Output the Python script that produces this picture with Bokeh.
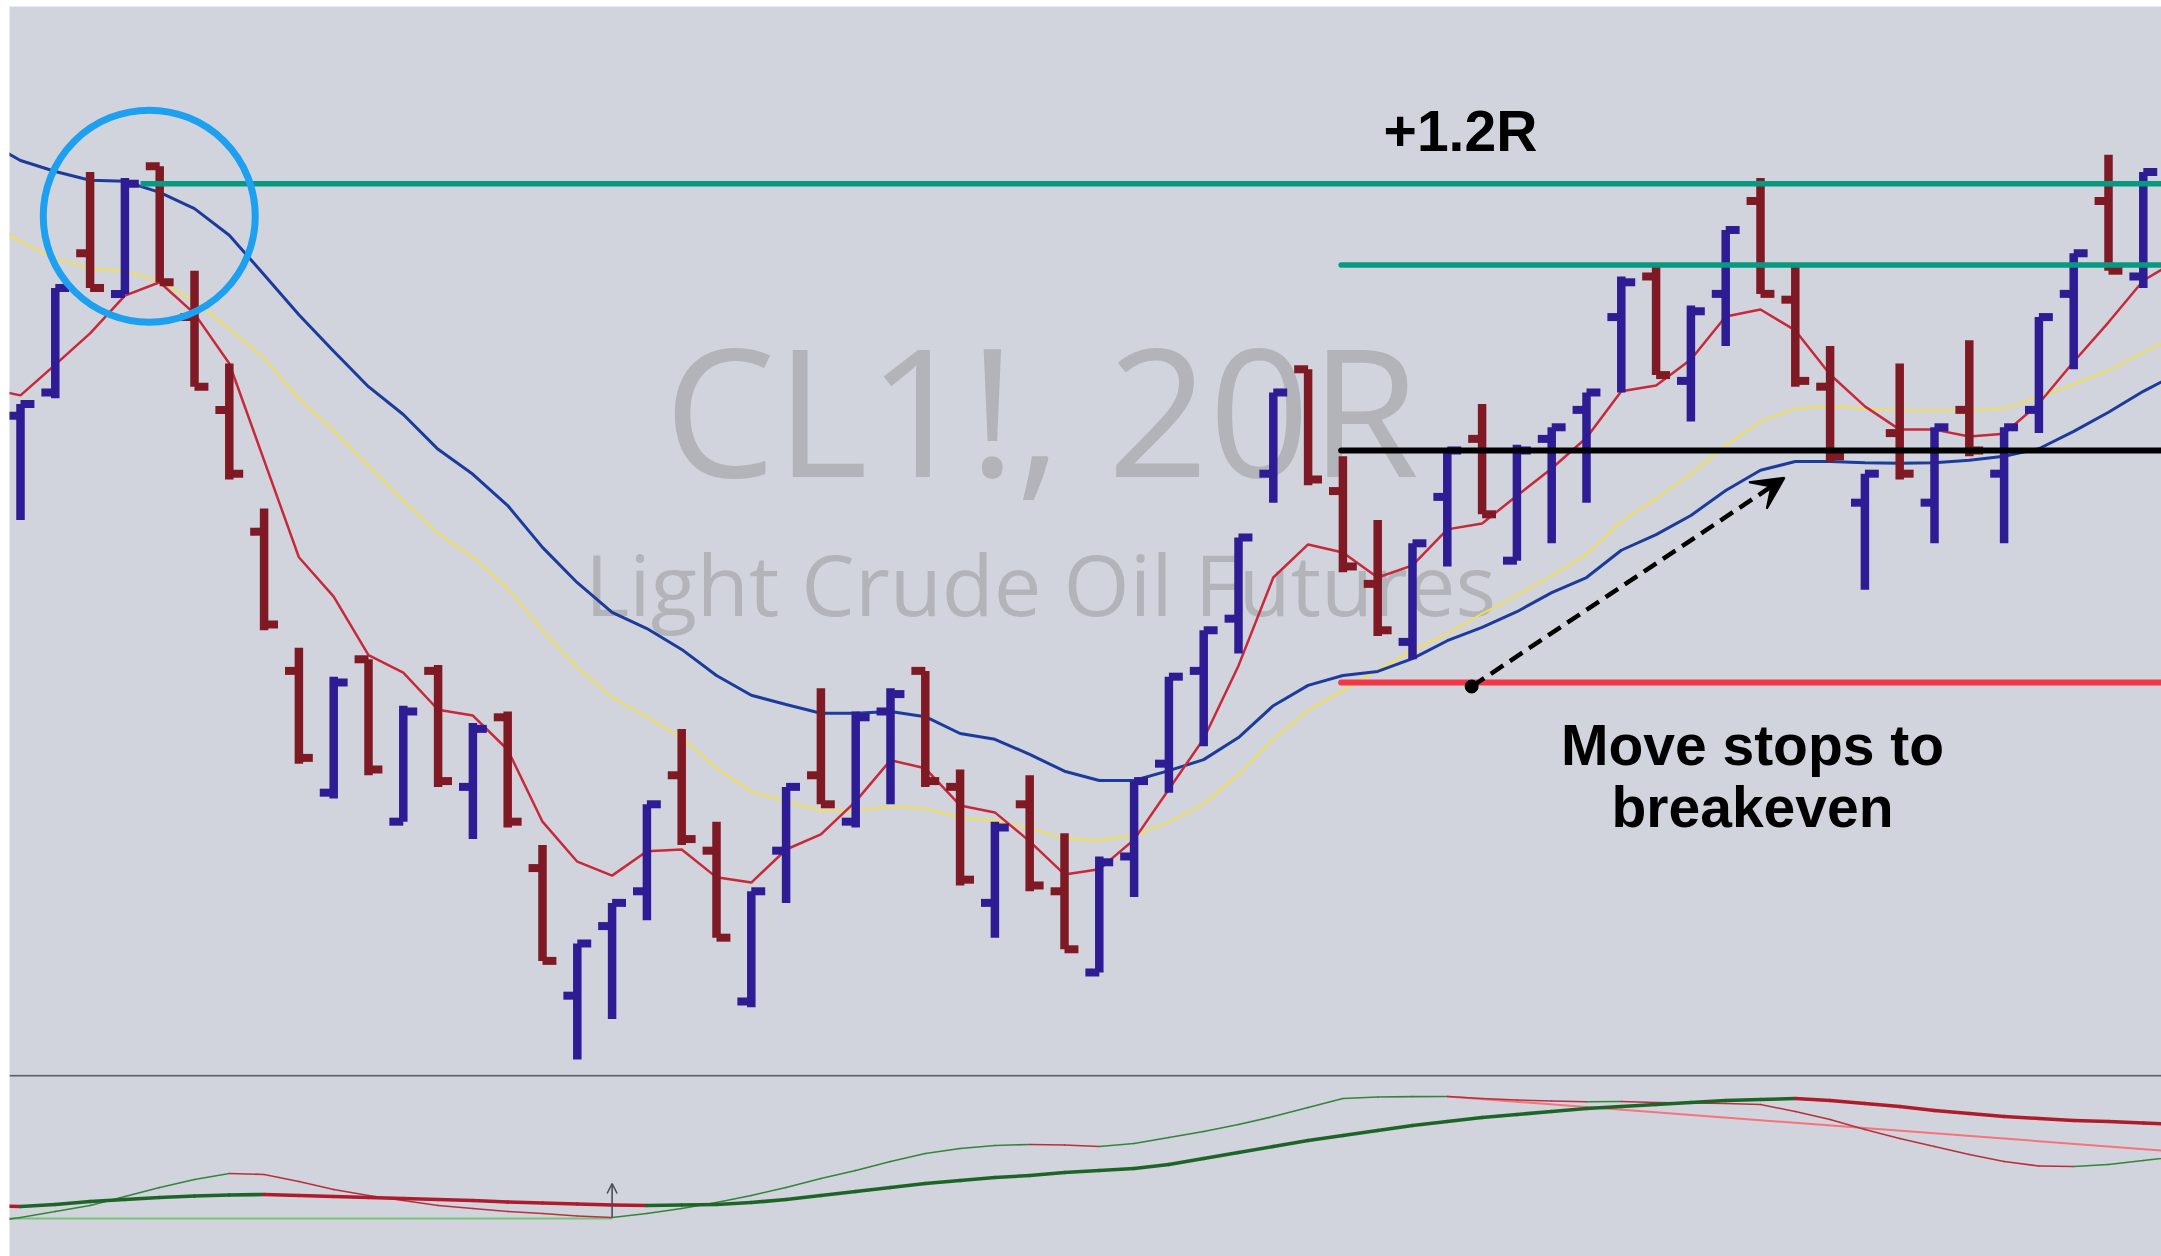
from bokeh.plotting import figure
from bokeh.layouts import column
from bokeh.models import Range1d, Span, Arrow, VeeHead, OpenHead
from bokeh.core.properties import value
from bokeh.embed import file_html
from bokeh.resources import INLINE

# ---------------- data (CL1!, 20-tick range bars) ----------------
opens = [76.06, 76.10, 76.34, 76.27, 76.49, 76.23, 76.07, 75.86, 75.62, 75.41,
         75.64, 75.36, 75.62, 75.42, 75.54, 75.28, 75.06, 75.18, 75.24, 75.44,
         75.31, 75.05, 75.31, 75.44, 75.36, 75.55, 75.62, 75.42, 75.22, 75.39,
         75.24, 75.10, 75.30, 75.46, 75.62, 75.71, 75.96, 76.14, 75.93, 75.77,
         75.67, 75.92, 76.02, 75.81, 76.02, 76.07, 76.23, 76.30, 76.12, 76.27,
         76.43, 76.26, 76.11, 75.91, 76.03, 75.91, 76.07, 75.96, 76.07, 76.27,
         76.43, 76.30]
highs = [76.08, 76.28, 76.48, 76.47, 76.49, 76.31, 76.15, 75.90, 75.66, 75.61,
         75.64, 75.56, 75.63, 75.53, 75.55, 75.32, 75.15, 75.22, 75.39, 75.52,
         75.36, 75.24, 75.42, 75.59, 75.55, 75.59, 75.62, 75.45, 75.36, 75.44,
         75.34, 75.30, 75.43, 75.61, 75.69, 75.85, 76.10, 76.14, 75.99, 75.88,
         75.84, 76.00, 76.08, 76.01, 76.04, 76.10, 76.30, 76.32, 76.25, 76.38,
         76.47, 76.32, 76.18, 75.96, 76.15, 76.04, 76.19, 76.04, 76.23, 76.34,
         76.51, 76.48]
lows = [75.88, 76.09, 76.28, 76.27, 76.29, 76.11, 75.95, 75.69, 75.46, 75.40,
        75.44, 75.36, 75.42, 75.33, 75.35, 75.12, 74.95, 75.02, 75.19, 75.32,
        75.16, 75.04, 75.22, 75.39, 75.35, 75.39, 75.42, 75.25, 75.16, 75.24,
        75.14, 75.10, 75.23, 75.41, 75.49, 75.65, 75.91, 75.94, 75.79, 75.68,
        75.64, 75.80, 75.89, 75.81, 75.84, 75.91, 76.10, 76.13, 76.05, 76.18,
        76.27, 76.11, 75.98, 75.76, 75.95, 75.84, 75.99, 75.84, 76.03, 76.14,
        76.31, 76.28]
closes = [76.08, 76.28, 76.28, 76.46, 76.29, 76.11, 75.96, 75.70, 75.47, 75.60,
          75.45, 75.55, 75.43, 75.52, 75.36, 75.12, 75.15, 75.22, 75.39, 75.33,
          75.16, 75.24, 75.42, 75.39, 75.54, 75.58, 75.43, 75.26, 75.35, 75.25,
          75.14, 75.29, 75.43, 75.61, 75.69, 75.85, 76.10, 75.95, 75.80, 75.69,
          75.84, 76.00, 75.89, 76.00, 76.04, 76.10, 76.29, 76.13, 76.24, 76.38,
          76.27, 76.12, 75.99, 75.96, 75.96, 76.04, 76.00, 76.04, 76.23, 76.34,
          76.31, 76.48]

# moving averages, one value per bar from bar -1 to bar 62
ma_fast = [76.107, 76.095, 76.148, 76.202, 76.267, 76.290, 76.236, 76.150, 75.983, 75.816,
           75.748, 75.647, 75.617, 75.553, 75.543, 75.484, 75.360, 75.291, 75.267, 75.309,
           75.312, 75.264, 75.255, 75.312, 75.338, 75.395, 75.466, 75.452, 75.388, 75.376,
           75.326, 75.269, 75.278, 75.329, 75.416, 75.503, 75.629, 75.781, 75.838, 75.824,
           75.781, 75.802, 75.864, 75.874, 75.922, 75.969, 76.022, 76.102, 76.112, 76.157,
           76.231, 76.243, 76.207, 76.131, 76.076, 76.036, 76.036, 76.024, 76.029, 76.081,
           76.153, 76.221, 76.293, 76.329]
ma_mid = [76.397, 76.360, 76.331, 76.314, 76.309, 76.293, 76.257, 76.210, 76.159, 76.090,
          76.034, 75.974, 75.914, 75.857, 75.816, 75.762, 75.690, 75.626, 75.574, 75.541,
          75.505, 75.452, 75.412, 75.395, 75.379, 75.379, 75.386, 75.383, 75.367, 75.362,
          75.348, 75.331, 75.328, 75.336, 75.359, 75.391, 75.441, 75.502, 75.552, 75.586,
          75.621, 75.655, 75.684, 75.719, 75.750, 75.784, 75.821, 75.878, 75.917, 75.959,
          76.009, 76.050, 76.072, 76.076, 76.072, 76.069, 76.069, 76.069, 76.072, 76.093,
          76.114, 76.138, 76.169, 76.198]
ma_slow = [76.534, 76.500, 76.481, 76.466, 76.464, 76.445, 76.417, 76.371, 76.303, 76.234,
           76.171, 76.110, 76.062, 76.002, 75.959, 75.905, 75.833, 75.772, 75.721, 75.693,
           75.657, 75.612, 75.578, 75.562, 75.547, 75.547, 75.550, 75.541, 75.512, 75.502,
           75.476, 75.447, 75.431, 75.431, 75.448, 75.467, 75.505, 75.560, 75.595, 75.612,
           75.619, 75.641, 75.672, 75.695, 75.722, 75.755, 75.781, 75.828, 75.855, 75.888,
           75.931, 75.966, 75.981, 75.981, 75.979, 75.978, 75.979, 75.983, 75.990, 76.003,
           76.033, 76.066, 76.102, 76.133]

# oscillator pane (bar -1 .. bar 62)
osc_slow = [10.7, 9.8, 11.5, 13.9, 15.6, 17.2, 18.4, 19.3, 19.7, 18.9,
            18.0, 17.2, 16.4, 15.6, 14.8, 13.5, 12.7, 11.9, 11.1, 10.7,
            11.1, 11.5, 13.1, 15.6, 18.9, 22.1, 25.4, 28.7, 31.1, 33.6,
            35.2, 37.7, 39.3, 41.0, 44.3, 49.2, 54.1, 59.0, 63.9, 68.0,
            72.1, 76.2, 79.5, 82.8, 85.2, 87.7, 90.2, 91.8, 93.4, 95.1,
            96.7, 97.5, 98.4, 96.7, 94.3, 91.8, 88.5, 86.1, 83.6, 82.0,
            80.3, 79.5, 78.3, 77.0]
osc_fast = [-3.3, 0.8, 5.7, 10.7, 18.0, 25.4, 32.0, 36.9, 36.1, 30.3,
            23.8, 18.9, 14.8, 10.7, 8.2, 5.7, 4.1, 2.0, 0.8, 4.1,
            8.2, 13.1, 18.9, 25.4, 32.8, 39.3, 46.7, 53.3, 57.4, 59.8,
            60.7, 60.2, 59.0, 61.5, 66.4, 71.3, 77.0, 83.6, 91.0, 98.4,
            99.6, 99.9, 100.0, 98.4, 97.1, 96.3, 95.7, 95.9, 95.1, 94.7,
            94.3, 93.4, 87.7, 81.1, 73.0, 65.6, 59.0, 52.5, 46.7, 43.0,
            42.6, 44.3, 47.5, 50.8]
trend_low_x = [-1, 17]
trend_low_y = [0.0, 0.0]
trend_high_x = [41, 62]
trend_high_y = [100.0, 54.7]
signal_bar = 17
signal_from, signal_to = 0.8, 28.7

# trade levels and annotations
target_price, target_from = 76.46, 3.45
partial_price = 76.32
entry_price = 76.00
stop_price = 75.60
levels_from = 37.95
circle_x, circle_y = 3.7, 76.404
move_from = (41.70, 75.593)
move_to = (50.69, 75.953)

# ---------------- figure ----------------
BG = "#d1d4dc"
UP, DOWN = "#2d1c94", "#7f1a24"
W = 2161
PAD_L, PAD_T = 9, 6
H1 = PAD_T + 1068
H2 = 182

n = len(opens)
bar_x = list(range(n))
ma_x = list(range(-1, n + 1))
xr = Range1d(-0.316, 61.523)

p = figure(width=W, height=H1, x_range=xr, y_range=Range1d(74.9241, 76.7655),
           output_backend="svg", toolbar_location=None,
           x_axis_location=None, y_axis_location=None, min_border=0,
           min_border_left=PAD_L, min_border_top=PAD_T,
           background_fill_color=BG, border_fill_color="white", outline_line_color=None)
p.grid.visible = False

# watermark
p.text(x=[29.34], y=[76.073], text=["CL1!, 20R"], text_font=value("Open Sans"),
       text_font_size="177px", text_color="#b3b4b9", text_align="center",
       text_baseline="alphabetic")
p.text(x=[29.31], y=[75.772], text=["Light Crude Oil Futures"], text_font=value("Open Sans"),
       text_font_size="85px", text_color="#b3b4b9", text_align="center",
       text_baseline="alphabetic")

# moving averages
p.line(ma_x, ma_mid, line_color="#f3e04c", line_width=1.8)
p.line(ma_x, ma_slow, line_color="#1c3b9c", line_width=3)
p.line(ma_x, ma_fast, line_color="#c8293a", line_width=2.5)

# OHLC bars
cols = [UP if c >= o else DOWN for o, c in zip(opens, closes)]
tick = 0.40
p.segment(x0=bar_x, y0=lows, x1=bar_x, y1=highs, line_color=cols, line_width=8.5, line_cap="butt")
p.segment(x0=[x - tick for x in bar_x], y0=opens, x1=bar_x, y1=opens,
          line_color=cols, line_width=8, line_cap="butt")
p.segment(x0=bar_x, y0=closes, x1=[x + tick for x in bar_x], y1=closes,
          line_color=cols, line_width=8, line_cap="butt")

# trade levels
xend = 63
p.segment(x0=[target_from], y0=[target_price], x1=[xend], y1=[target_price],
          line_color="#089981", line_width=5.5)
p.segment(x0=[levels_from], y0=[partial_price], x1=[xend], y1=[partial_price],
          line_color="#089981", line_width=5.5, line_cap="round")
p.segment(x0=[levels_from], y0=[entry_price], x1=[xend], y1=[entry_price],
          line_color="#000000", line_width=6, line_cap="round")
p.segment(x0=[levels_from], y0=[stop_price], x1=[xend], y1=[stop_price],
          line_color="#f23645", line_width=6, line_cap="round")

# highlight circle
p.scatter(x=[circle_x], y=[circle_y], marker="circle", size=212,
          fill_color=None, line_color="#1da0f0", line_width=7)

# move-stop arrow
p.add_layout(Arrow(end=VeeHead(size=32, fill_color="black", line_color="black", line_width=2),
                   x_start=move_from[0], y_start=move_from[1],
                   x_end=move_to[0], y_end=move_to[1],
                   line_color="black", line_width=4.5, line_dash="15 8"))
p.scatter(x=[move_from[0]], y=[move_from[1]], marker="circle", size=13,
          fill_color="black", line_color="black")

# labels (anchored at cap-height centre)
p.text(x=[39.17], y=[76.550], text=["+1.2R"], text_font=value("Liberation Sans"),
       text_font_style="bold", text_font_size="57px", text_color="black",
       text_align="left", text_baseline="alphabetic")
p.text(x=[49.77, 49.77], y=[75.493, 75.386], text=["Move stops to", "breakeven"],
       text_font=value("Liberation Sans"), text_font_style="bold",
       text_font_size="57px", text_color="black", text_align="center",
       text_baseline="alphabetic")

# ---------------- oscillator pane ----------------
p2 = figure(width=W, height=H2, x_range=xr, y_range=Range1d(-31.15, 118.03),
            output_backend="svg", toolbar_location=None,
            x_axis_location=None, y_axis_location=None, min_border=0,
            min_border_left=PAD_L,
            background_fill_color=BG, border_fill_color="white", outline_line_color=None)
p2.grid.visible = False
p2.add_layout(Span(location=117.2, dimension="width", line_color="#5a5d66", line_width=2))

p2.line(trend_low_x, trend_low_y, line_color="#72c676", line_width=2)
p2.line(trend_high_x, trend_high_y, line_color="#f7727c", line_width=2)


def colored(vals, up, down):
    return [up if b >= a else down for a, b in zip(vals[:-1], vals[1:])]


p2.segment(x0=ma_x[:-1], y0=osc_fast[:-1], x1=ma_x[1:], y1=osc_fast[1:],
           line_color=colored(osc_fast, "#35843a", "#b8303e"), line_width=1.6, line_cap="round")
p2.segment(x0=ma_x[:-1], y0=osc_slow[:-1], x1=ma_x[1:], y1=osc_slow[1:],
           line_color=colored(osc_slow, "#1d6527", "#b01b2c"), line_width=3.6, line_cap="round")

p2.add_layout(Arrow(end=OpenHead(size=10, line_color="#4a4e5a", line_width=1.6),
                    x_start=signal_bar, y_start=signal_from, x_end=signal_bar, y_end=signal_to,
                    line_color="#4a4e5a", line_width=1.6))

layout = column(p, p2, spacing=0)
open("out.html", "w").write(file_html(layout, INLINE))
